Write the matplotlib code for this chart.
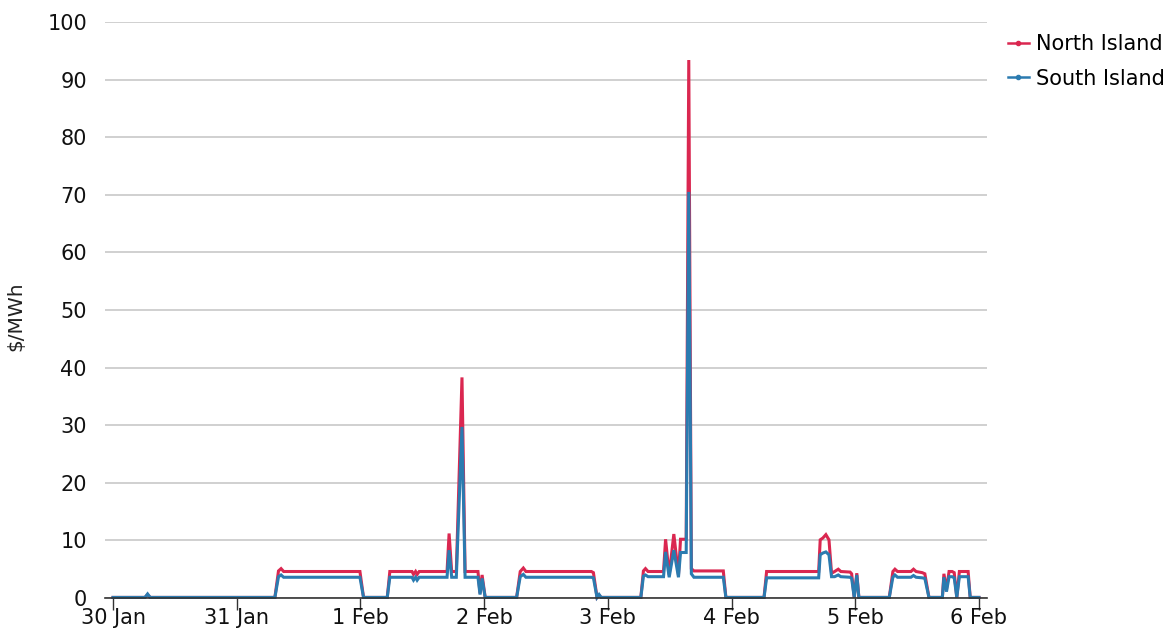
import matplotlib
matplotlib.use("Agg")
import matplotlib.pyplot as plt
from matplotlib.lines import Line2D

# hours since 30 Jan 00:00 and $/MWh at the turning points
north_hours = [
    0, 6.2, 6.7, 7.2, 31.4, 32.1, 32.6, 33.1, 47.9, 48.6,
    53.2, 53.7, 58.0, 58.3, 58.7, 59.0, 59.4, 64.8, 65.2, 65.7,
    66.6, 67.7, 68.3, 70.8, 71.2, 71.6, 72.2, 78.3, 79.0, 79.6,
    80.1, 92.8, 93.2, 93.9, 94.3, 94.7, 102.4, 102.9, 103.3, 103.8,
    106.8, 107.2, 107.9, 108.8, 109.7, 110.1, 111.2, 111.7, 112.2, 112.7,
    118.4, 118.9, 126.3, 126.8, 136.9, 137.2, 137.7, 138.3, 138.9, 139.4,
    140.0, 140.7, 141.2, 143.0, 143.3, 143.8, 144.3, 144.7, 150.6, 151.3,
    151.7, 152.2, 154.8, 155.3, 155.8, 157.0, 157.5, 158.3, 160.9, 161.2,
    161.7, 162.2, 162.8, 163.2, 163.7, 164.2, 165.9, 166.3, 168.0,
]
north_price = [
    0.1, 0.1, 0.6, 0.1, 0.1, 4.7, 5.1, 4.6, 4.6, 0.1,
    0.1, 4.6, 4.6, 4.1, 4.6, 4.1, 4.6, 4.6, 11.2, 4.6,
    4.6, 38.3, 4.6, 4.6, 0.8, 4.0, 0.1, 0.1, 4.6, 5.2,
    4.6, 4.6, 4.4, 0.1, 0.5, 0.1, 0.1, 4.7, 5.1, 4.6,
    4.6, 10.2, 4.0, 11.1, 4.0, 10.2, 10.2, 93.4, 5.1, 4.7,
    4.7, 0.1, 0.1, 4.6, 4.6, 10.1, 10.4, 11.0, 10.1, 4.3,
    4.6, 5.0, 4.6, 4.5, 4.2, 0.1, 4.3, 0.1, 0.1, 4.6,
    5.0, 4.6, 4.6, 5.0, 4.6, 4.4, 4.2, 0.1, 0.1, 4.2,
    1.5, 4.6, 4.6, 4.4, 0.1, 4.6, 4.6, 0.1, 0.1,
]
south_price = [
    0.1, 0.1, 0.7, 0.1, 0.1, 3.7, 4.0, 3.6, 3.6, 0.1,
    0.1, 3.6, 3.6, 3.1, 3.6, 3.1, 3.6, 3.6, 8.3, 3.6,
    3.6, 29.7, 3.6, 3.6, 0.6, 3.4, 0.1, 0.1, 3.7, 4.1,
    3.6, 3.6, 3.5, 0.1, 0.6, 0.1, 0.1, 3.8, 4.0, 3.7,
    3.7, 8.0, 3.6, 8.3, 3.6, 7.9, 7.9, 70.5, 4.2, 3.6,
    3.6, 0.1, 0.1, 3.5, 3.5, 7.5, 7.8, 8.0, 7.5, 3.7,
    3.7, 4.0, 3.7, 3.6, 3.4, 0.1, 4.0, 0.1, 0.1, 3.6,
    4.0, 3.6, 3.6, 3.9, 3.6, 3.5, 3.4, 0.1, 0.1, 3.6,
    1.1, 3.7, 3.7, 3.5, 0.1, 3.7, 3.7, 0.1, 0.1,
]
day_labels = ["30 Jan", "31 Jan", "1 Feb", "2 Feb", "3 Feb", "4 Feb", "5 Feb", "6 Feb"]
series_names = ["North Island", "South Island"]

RED = "#DA2750"
BLUE = "#2B7BB0"

plt.rcParams["font.family"] = ["DejaVu Sans"]

fig = plt.figure(figsize=(11.71, 6.3), dpi=100)
ax = fig.add_axes([105 / 1171, 1 - 598 / 630, (987 - 105) / 1171, (598 - 22) / 630])

days = [h / 24 for h in north_hours]
ax.plot(days, north_price, color=RED, lw=2.2, solid_joinstyle="miter", clip_on=False, zorder=3)
ax.plot(days, south_price, color=BLUE, lw=2.2, solid_joinstyle="miter", clip_on=False, zorder=4)

ax.set_xlim(-0.065, 7.065)
ax.set_ylim(0, 100)
ax.set_yticks(range(0, 101, 10))
ax.set_xticks(range(len(day_labels)))
ax.set_xticklabels(day_labels)

ax.grid(axis="y", color="#c8c8c8", lw=1.2)
ax.set_axisbelow(True)
for side in ["top", "right", "left"]:
    ax.spines[side].set_visible(False)
ax.spines["bottom"].set_color("#333333")
ax.spines["bottom"].set_linewidth(1.2)
ax.spines["bottom"].set_zorder(5)

ax.tick_params(axis="y", length=0, pad=13, labelsize=15, labelcolor="#111111")
ax.tick_params(axis="x", length=8.5, width=1.0, color="#333333", pad=-1,
               labelsize=15, labelcolor="#111111")

fig.text(16 / 1171, 1 - 316 / 630, "$/MWh", rotation=90, ha="center", va="center",
         fontsize=14.5, color="#222222")

handles = [
    Line2D([], [], color=RED, lw=1.8, marker="o", markersize=3),
    Line2D([], [], color=BLUE, lw=1.8, marker="o", markersize=3),
]
fig.legend(handles, series_names, loc="upper left", bbox_to_anchor=(1008 / 1171, 1 - 34 / 630),
           frameon=False, fontsize=15, handlelength=1.0, handletextpad=0.35,
           labelspacing=0.7, borderpad=0, borderaxespad=0)

fig.savefig("out.png", dpi=100)
